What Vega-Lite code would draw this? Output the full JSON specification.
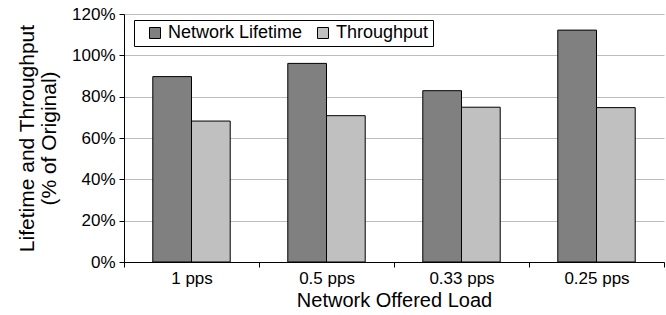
{
  "$schema": "https://vega.github.io/schema/vega-lite/v6.json",
  "width": 540,
  "height": 248,
  "autosize": {"type": "none"},
  "padding": {"left": 124, "top": 14, "right": 2, "bottom": 53},
  "background": "white",
  "config": {
    "font": "Liberation Sans",
    "view": {"stroke": null}
  },
  "data": {
    "values": [
      {"load": "1 pps", "series": "Network Lifetime", "value": 0.897},
      {"load": "1 pps", "series": "Throughput", "value": 0.682},
      {"load": "0.5 pps", "series": "Network Lifetime", "value": 0.961},
      {"load": "0.5 pps", "series": "Throughput", "value": 0.708},
      {"load": "0.33 pps", "series": "Network Lifetime", "value": 0.829},
      {"load": "0.33 pps", "series": "Throughput", "value": 0.749},
      {"load": "0.25 pps", "series": "Network Lifetime", "value": 1.122},
      {"load": "0.25 pps", "series": "Throughput", "value": 0.747}
    ]
  },
  "mark": {"type": "bar", "stroke": "black", "strokeWidth": 1},
  "encoding": {
    "x": {
      "field": "load",
      "type": "nominal",
      "sort": ["1 pps", "0.5 pps", "0.33 pps", "0.25 pps"],
      "scale": {"paddingInner": 0, "paddingOuter": 0},
      "axis": {
        "title": "Network Offered Load",
        "titleFontSize": 20,
        "titleFontWeight": "normal",
        "titleColor": "black",
        "titlePadding": 4,
        "labelFontSize": 17,
        "labelColor": "black",
        "labelAngle": 0,
        "labelPadding": 3,
        "tickBand": "extent",
        "tickColor": "black",
        "tickSize": 5,
        "domainColor": "black",
        "grid": false
      }
    },
    "xOffset": {
      "field": "series",
      "type": "nominal",
      "sort": ["Network Lifetime", "Throughput"],
      "scale": {"paddingInner": 0, "paddingOuter": 0.744}
    },
    "y": {
      "field": "value",
      "type": "quantitative",
      "scale": {"domain": [0, 1.2], "nice": false},
      "axis": {
        "title": ["Lifetime and Throughput", "(% of Original)"],
        "titleFontSize": 21,
        "titleFontWeight": "normal",
        "titleColor": "black",
        "titleLineHeight": 22,
        "titlePadding": 12,
        "format": ".0%",
        "values": [0, 0.2, 0.4, 0.6, 0.8, 1.0, 1.2],
        "labelFontSize": 17,
        "labelColor": "black",
        "labelPadding": 4,
        "tickColor": "black",
        "tickSize": 5,
        "domainColor": "black",
        "gridColor": "#bdbdbd",
        "gridWidth": 1
      }
    },
    "color": {
      "field": "series",
      "type": "nominal",
      "scale": {"domain": ["Network Lifetime", "Throughput"], "range": ["#808080", "#c0c0c0"]},
      "legend": {
        "title": null,
        "orient": "none",
        "legendX": 10,
        "legendY": 6,
        "direction": "horizontal",
        "symbolType": "square",
        "symbolSize": 121,
        "symbolStrokeColor": "black",
        "symbolStrokeWidth": 1,
        "symbolOpacity": 1,
        "symbolOffset": 8,
        "labelFontSize": 18,
        "labelColor": "black",
        "labelOffset": 4,
        "columnPadding": 3,
        "strokeColor": "black",
        "fillColor": "white",
        "padding": 4
      }
    }
  }
}
